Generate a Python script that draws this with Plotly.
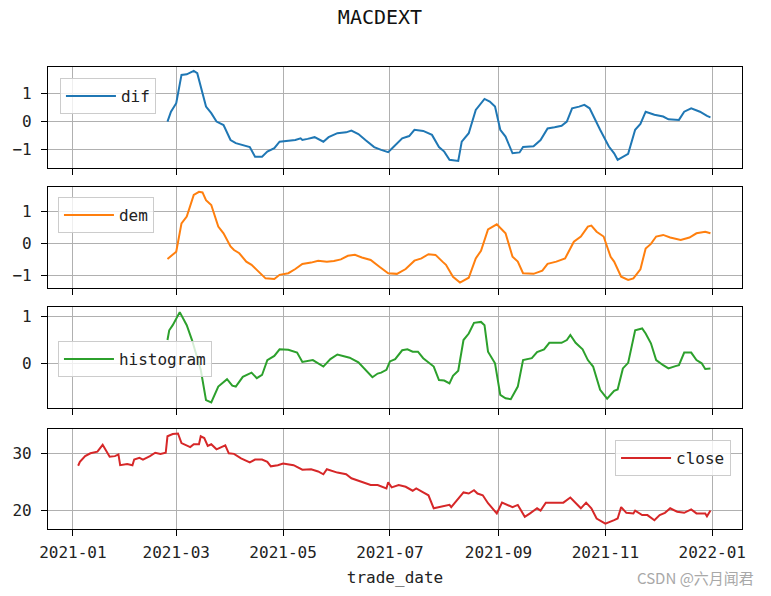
import plotly.graph_objects as go
from plotly.subplots import make_subplots

# ---------------- data ----------------
dif_dates = ["2021-02-24","2021-02-26","2021-03-01","2021-03-04","2021-03-07","2021-03-11","2021-03-13","2021-03-15",
             "2021-03-18","2021-03-21","2021-03-24","2021-03-28","2021-04-01","2021-04-04","2021-04-10","2021-04-12",
             "2021-04-15","2021-04-19","2021-04-22","2021-04-26","2021-04-29","2021-05-04","2021-05-08","2021-05-11",
             "2021-05-12","2021-05-15","2021-05-19","2021-05-24","2021-05-27","2021-06-01","2021-06-06","2021-06-09",
             "2021-06-13","2021-06-17","2021-06-22","2021-06-26","2021-06-30","2021-07-03","2021-07-08","2021-07-12",
             "2021-07-15","2021-07-20","2021-07-25","2021-07-29","2021-08-01","2021-08-04","2021-08-09","2021-08-11",
             "2021-08-15","2021-08-19","2021-08-24","2021-08-27","2021-08-30","2021-09-02","2021-09-05","2021-09-09",
             "2021-09-13","2021-09-15","2021-09-21","2021-09-25","2021-09-29","2021-10-03","2021-10-07","2021-10-10",
             "2021-10-13","2021-10-17","2021-10-20","2021-10-23","2021-10-26","2021-10-29","2021-11-03","2021-11-06",
             "2021-11-08","2021-11-14","2021-11-18","2021-11-21","2021-11-24","2021-11-29","2021-12-04","2021-12-07",
             "2021-12-13","2021-12-16","2021-12-20","2021-12-25","2021-12-29","2021-12-31"]
dif_values = [0.0, 0.35, 0.65, 1.65, 1.67, 1.79, 1.71, 1.24,
              0.53, 0.30, 0.0, -0.12, -0.65, -0.76, -0.86, -0.90,
              -1.24, -1.24, -1.06, -0.94, -0.71, -0.68, -0.65, -0.59,
              -0.65, -0.61, -0.55, -0.71, -0.55, -0.41, -0.38, -0.32,
              -0.44, -0.65, -0.90, -1.00, -1.08, -0.90, -0.59, -0.51,
              -0.29, -0.33, -0.47, -0.90, -1.06, -1.35, -1.39, -0.71,
              -0.41, 0.41, 0.80, 0.71, 0.53, -0.29, -0.53, -1.12,
              -1.09, -0.90, -0.87, -0.65, -0.24, -0.20, -0.15, 0.0,
              0.47, 0.53, 0.59, 0.47, 0.06, -0.29, -0.88, -1.12,
              -1.35, -1.14, -0.29, -0.08, 0.35, 0.24, 0.18, 0.08,
              0.06, 0.35, 0.47, 0.35, 0.20, 0.15]

dem_dates = ["2021-02-24","2021-02-26","2021-03-01","2021-03-04","2021-03-07","2021-03-11","2021-03-14","2021-03-16",
             "2021-03-18","2021-03-21","2021-03-25","2021-03-28","2021-04-01","2021-04-03","2021-04-06","2021-04-10",
             "2021-04-13","2021-04-17","2021-04-21","2021-04-26","2021-04-29","2021-05-04","2021-05-08","2021-05-12",
             "2021-05-17","2021-05-21","2021-05-26","2021-05-30","2021-06-03","2021-06-07","2021-06-11","2021-06-15",
             "2021-06-20","2021-06-25","2021-06-30","2021-07-05","2021-07-10","2021-07-15","2021-07-19","2021-07-23",
             "2021-07-27","2021-07-31","2021-08-02","2021-08-06","2021-08-10","2021-08-15","2021-08-19","2021-08-22",
             "2021-08-26","2021-08-31","2021-09-02","2021-09-05","2021-09-09","2021-09-12","2021-09-15","2021-09-21",
             "2021-09-26","2021-09-29","2021-10-04","2021-10-09","2021-10-14","2021-10-18","2021-10-22","2021-10-24",
             "2021-10-27","2021-10-31","2021-11-04","2021-11-06","2021-11-10","2021-11-14","2021-11-17","2021-11-21",
             "2021-11-24","2021-11-27","2021-11-30","2021-12-04","2021-12-08","2021-12-14","2021-12-19","2021-12-23",
             "2021-12-28","2021-12-31"]
dem_values = [-0.49, -0.39, -0.26, 0.62, 0.83, 1.50, 1.60, 1.58,
              1.34, 1.19, 0.52, 0.31, -0.10, -0.21, -0.31, -0.57,
              -0.67, -0.88, -1.09, -1.11, -0.98, -0.93, -0.80, -0.64,
              -0.60, -0.54, -0.57, -0.55, -0.50, -0.39, -0.36, -0.44,
              -0.52, -0.73, -0.93, -0.95, -0.80, -0.54, -0.47, -0.34,
              -0.36, -0.57, -0.67, -1.04, -1.22, -1.07, -0.47, -0.23,
              0.43, 0.59, 0.47, 0.31, -0.42, -0.57, -0.93, -0.95,
              -0.85, -0.64, -0.57, -0.47, 0.05, 0.21, 0.52, 0.55,
              0.36, 0.21, -0.42, -0.57, -1.04, -1.14, -1.09, -0.81,
              -0.16, -0.02, 0.21, 0.26, 0.18, 0.10, 0.18, 0.31,
              0.36, 0.31]

hist_dates = ["2021-02-24","2021-02-25","2021-02-27","2021-03-03","2021-03-07","2021-03-10","2021-03-15","2021-03-18",
              "2021-03-21","2021-03-25","2021-03-30","2021-04-02","2021-04-04","2021-04-08","2021-04-13","2021-04-16",
              "2021-04-19","2021-04-22","2021-04-26","2021-04-29","2021-05-04","2021-05-09","2021-05-12","2021-05-18",
              "2021-05-24","2021-05-28","2021-06-01","2021-06-08","2021-06-13","2021-06-17","2021-06-21","2021-06-24",
              "2021-06-26","2021-06-29","2021-07-01","2021-07-04","2021-07-08","2021-07-11","2021-07-14","2021-07-17",
              "2021-07-20","2021-07-26","2021-07-29","2021-08-01","2021-08-04","2021-08-06","2021-08-09","2021-08-12",
              "2021-08-15","2021-08-18","2021-08-22","2021-08-24","2021-08-26","2021-08-30","2021-09-02","2021-09-05",
              "2021-09-08","2021-09-12","2021-09-15","2021-09-20","2021-09-23","2021-09-27","2021-09-30","2021-10-07",
              "2021-10-10","2021-10-12","2021-10-15","2021-10-19","2021-10-22","2021-10-25","2021-10-29","2021-11-02",
              "2021-11-06","2021-11-08","2021-11-11","2021-11-14","2021-11-18","2021-11-22","2021-11-24","2021-11-27",
              "2021-11-30","2021-12-04","2021-12-07","2021-12-11","2021-12-13","2021-12-16","2021-12-20","2021-12-23",
              "2021-12-26","2021-12-28","2021-12-31"]
hist_values = [0.50, 0.71, 0.82, 1.10, 0.82, 0.50, -0.14, -0.79,
               -0.84, -0.50, -0.34, -0.48, -0.50, -0.29, -0.20, -0.32,
               -0.25, 0.07, 0.16, 0.30, 0.29, 0.23, 0.03, 0.07,
               -0.07, 0.09, 0.19, 0.12, 0.02, -0.14, -0.30, -0.22,
               -0.20, -0.14, 0.04, 0.09, 0.28, 0.30, 0.25, 0.25,
               0.11, -0.07, -0.36, -0.37, -0.43, -0.27, -0.16, 0.50,
               0.64, 0.87, 0.89, 0.82, 0.25, 0.0, -0.68, -0.75,
               -0.77, -0.50, 0.07, 0.11, 0.24, 0.30, 0.44, 0.44,
               0.50, 0.61, 0.44, 0.30, 0.07, -0.07, -0.57, -0.76,
               -0.59, -0.56, -0.11, 0.01, 0.71, 0.75, 0.64, 0.43,
               0.07, -0.04, -0.11, -0.06, -0.04, 0.23, 0.23, 0.07,
               0.0, -0.12, -0.11]

close_dates = ["2021-01-04","2021-01-05","2021-01-08","2021-01-11","2021-01-15","2021-01-18","2021-01-22","2021-01-25",
               "2021-01-27","2021-01-28","2021-02-01","2021-02-04","2021-02-05","2021-02-08","2021-02-10","2021-02-14",
               "2021-02-17","2021-02-20","2021-02-23","2021-02-24","2021-02-27","2021-03-02","2021-03-04","2021-03-09",
               "2021-03-11","2021-03-14","2021-03-15","2021-03-17","2021-03-19","2021-03-21","2021-03-24","2021-03-29",
               "2021-03-31","2021-04-03","2021-04-07","2021-04-12","2021-04-15","2021-04-19","2021-04-22","2021-04-24",
               "2021-04-28","2021-05-01","2021-05-07","2021-05-12","2021-05-17","2021-05-21","2021-05-24","2021-05-26",
               "2021-06-01","2021-06-06","2021-06-09","2021-06-15","2021-06-20","2021-06-24","2021-06-29","2021-06-30",
               "2021-07-02","2021-07-06","2021-07-10","2021-07-14","2021-07-16","2021-07-20","2021-07-23","2021-07-26",
               "2021-07-31","2021-08-04","2021-08-05","2021-08-09","2021-08-12","2021-08-15","2021-08-18","2021-08-20",
               "2021-08-23","2021-08-26","2021-08-31","2021-09-03","2021-09-06","2021-09-09","2021-09-12","2021-09-16",
               "2021-09-19","2021-09-23","2021-09-25","2021-09-28","2021-10-03","2021-10-08","2021-10-12","2021-10-15",
               "2021-10-18","2021-10-21","2021-10-24","2021-10-27","2021-11-01","2021-11-06","2021-11-08","2021-11-10",
               "2021-11-13","2021-11-17","2021-11-18","2021-11-22","2021-11-25","2021-11-29","2021-12-02","2021-12-05",
               "2021-12-08","2021-12-12","2021-12-16","2021-12-20","2021-12-23","2021-12-28","2021-12-29","2021-12-31"]
close_values = [27.8, 28.5, 29.5, 30.0, 30.3, 31.5, 29.4, 29.5,
                29.8, 27.9, 28.1, 27.9, 28.9, 29.2, 28.9, 29.5,
                30.1, 29.9, 30.1, 33.0, 33.4, 33.5, 31.8, 31.1,
                31.6, 31.6, 33.0, 32.7, 31.3, 31.6, 30.7, 31.4,
                30.0, 29.9, 29.1, 28.4, 28.9, 28.9, 28.5, 27.7,
                27.9, 28.2, 27.9, 27.1, 27.2, 26.8, 26.3, 27.2,
                26.6, 26.3, 25.6, 25.0, 24.4, 24.4, 23.8, 24.9,
                24.0, 24.4, 24.1, 23.4, 23.8, 23.1, 22.6, 20.3,
                20.7, 20.9, 20.5, 22.1, 23.1, 22.9, 23.5, 22.9,
                22.6, 21.2, 19.4, 21.3, 20.9, 20.5, 20.9, 18.8,
                19.4, 20.3, 19.9, 21.3, 21.3, 21.3, 22.2, 21.2,
                20.3, 21.3, 20.3, 18.5, 17.6, 18.2, 18.5, 20.5,
                19.5, 19.4, 19.9, 19.1, 19.1, 18.2, 19.1, 19.5,
                20.3, 19.7, 19.5, 20.1, 19.4, 19.4, 18.9, 19.9]

x_tick_dates = ["2021-01-01", "2021-03-01", "2021-05-01", "2021-07-01", "2021-09-01", "2021-11-01", "2022-01-01"]
x_tick_labels = ["2021-01", "2021-03", "2021-05", "2021-07", "2021-09", "2021-11", "2022-01"]

series = [
    ("dif", dif_dates, dif_values, "#1f77b4"),
    ("dem", dem_dates, dem_values, "#ff7f0e"),
    ("histogram", hist_dates, hist_values, "#2ca02c"),
    ("close", close_dates, close_values, "#d62728"),
]

# ---------------- figure ----------------
FONT = "DejaVu Sans Mono"
W, H = 771, 596
ML, MR, MT, MB = 45, 29, 67, 67

fig = make_subplots(rows=4, cols=1, shared_xaxes=True)
legend_names = ["legend", "legend2", "legend3", "legend4"]
for i, (name, xs, ys, color) in enumerate(series):
    fig.add_trace(go.Scatter(x=xs, y=ys, name=name, mode="lines",
                             line=dict(color=color, width=2),
                             legend=legend_names[i], showlegend=True),
                  row=i + 1, col=1)

domains = [[0.7814, 1.0], [0.5216, 0.7403], [0.2619, 0.4805], [0.0, 0.2165]]
yranges = [[-1.64, 1.93], [-1.39, 1.75], [-0.96, 1.21], [16.65, 34.29]]
yticks = [[-1, 0, 1], [-1, 0, 1], [0, 1], [20, 30]]

axis_common = dict(showline=True, linecolor="black", linewidth=1.2, mirror=True,
                   ticks="outside", ticklen=6, tickwidth=1.2, tickcolor="black",
                   showgrid=True, gridcolor="#b0b0b0", gridwidth=1.2, zeroline=False,
                   tickfont=dict(family=FONT, size=16, color="#222222"))

for i in range(4):
    fig.update_yaxes(domain=domains[i], range=yranges[i], tickvals=yticks[i],
                     ticklabelstandoff=6, **axis_common, row=i + 1, col=1)
    fig.update_xaxes(range=["2020-12-17 19:00", "2022-01-18"], tickvals=x_tick_dates,
                     ticktext=x_tick_labels, showticklabels=(i == 3), ticklabelstandoff=3,
                     **axis_common, row=i + 1, col=1)

fig.update_xaxes(title=dict(text="trade_date", font=dict(family=FONT, size=16, color="#222222"),
                            standoff=10), row=4, col=1)

legend_style = dict(bgcolor="rgba(255,255,255,0.8)", bordercolor="#cccccc", borderwidth=1,
                    font=dict(family=FONT, size=16, color="#222222"), itemwidth=50)
pw = W - ML - MR
ph = H - MT - MB
fig.update_layout(
    width=W, height=H,
    margin=dict(l=ML, r=MR, t=MT, b=MB),
    paper_bgcolor="white", plot_bgcolor="white",
    title=dict(text="MACDEXT", x=380 / W, xanchor="center", y=1 - 17 / H, yanchor="middle",
               font=dict(family=FONT, size=20, color="#111111")),
    legend=dict(x=(57 - ML) / pw, y=1 - (78 - MT) / ph, xanchor="left", yanchor="top", **legend_style),
    legend2=dict(x=(55 - ML) / pw, y=1 - (197 - MT) / ph, xanchor="left", yanchor="top", **legend_style),
    legend3=dict(x=(55 - ML) / pw, y=1 - (341 - MT) / ph, xanchor="left", yanchor="top", **legend_style),
    legend4=dict(x=(731 - ML) / pw, y=1 - (440 - MT) / ph, xanchor="right", yanchor="top", **legend_style),
    annotations=[dict(text="CSDN @六月闻君", xref="paper", yref="paper",
                      x=(756 - ML) / pw, y=-(577 - (H - MB)) / ph, xanchor="right", yanchor="middle",
                      showarrow=False, font=dict(family="Noto Sans CJK SC", size=15, color="#a8a8a8"))],
)

fig.write_html("out.html")
